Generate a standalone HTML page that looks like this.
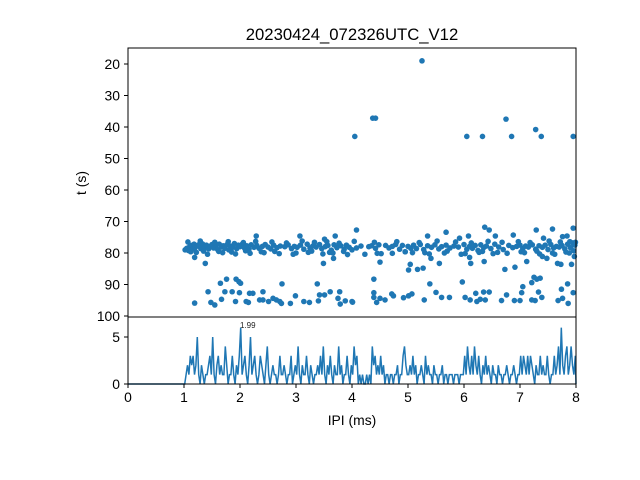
<!DOCTYPE html>
<html><head><meta charset="utf-8"><style>
body{margin:0;background:#fff}
svg{display:block;font-family:"Liberation Sans","DejaVu Sans",sans-serif}
</style></head><body>
<svg id="chart" width="640" height="480" viewBox="0 0 640 480">
<rect width="640" height="480" fill="#fff"/>
<text x="352" y="40" font-size="16.7" text-anchor="middle">20230424_072326UTC_V12</text>
<g id="scatter"></g>
<g id="hist"></g>
<rect x="128" y="48" width="448" height="269" fill="none" stroke="#000" stroke-width="1"/>
<rect x="128" y="317" width="448" height="67" fill="none" stroke="#000" stroke-width="1"/>
<g id="ticks"></g>
<text x="86" y="183" font-size="13.9" text-anchor="middle" transform="rotate(-90 86 183)">t (s)</text>
<text x="352" y="425" font-size="13.9" text-anchor="middle">IPI (ms)</text>
<text x="240" y="328" font-size="8" fill="#222">1.99</text>
</svg>
<script>
const xTicks=[0,1,2,3,4,5,6,7,8];
const tTicks=[20,30,40,50,60,70,80,90,100];
const hTicks=[0,5];
const outlierX=[5.25,4.37,4.42,4.05,6.05,6.33,6.75,6.85,7.28,7.38,7.95];
const outlierT=[19,37.2,37.2,43,43,43,37.5,43,40.8,43,43];
const lowX=[1.19,1.38,1.19,1.43,1.48,1.55,1.65,1.67,1.73,1.76,1.86,1.92,1.93,1.98,2.01,1.99,2.11,2.15,2.17,2.23,2.35,2.41,2.41,2.51,2.59,2.65,2.71,2.74,2.75,2.9,2.99,3.14,3.24,3.38,3.4,3.42,3.51,3.49,3.61,3.67,3.78,3.75,3.79,3.88,4.0,2.29,3.07,3.51,3.7,4.08,
4.23,4.5,4.72,4.95,5.01,5.04,5.17,5.27,5.41,5.56,6.1,6.12,6.36,6.73,6.91,7.12,7.4,7.48,7.67,7.73,7.92,7.97,
5.35,5.68,5.92,6.08,6.37,6.45,6.56,6.88,7.29,7.42,7.58,7.76,7.84,7.95,7.89,
4.01,4.39,4.39,4.39,4.44,4.5,4.59,4.71,4.74,4.92,5.01,5.07,5.29,5.39,5.5,5.6,5.74,5.97,6.02,6.11,6.21,6.23,6.29,6.35,6.38,6.45,6.67,6.76,6.9,7.0,7.03,7.05,7.21,7.25,7.3,7.36,7.21,7.27,7.33,7.39,7.68,7.74,7.76,7.85,7.86,7.95];
const lowT=[95.9,83.3,81.4,92.3,95.7,96.5,89.6,94.7,92.3,88.3,92.3,95.4,88.3,89.1,89.6,92.6,95.4,95.7,92.8,92.8,94.9,92.3,94.9,95.4,94.4,94.9,95.4,96,89.8,96,93.6,95.4,95.7,89.8,95.2,93.3,93.3,83.3,92.3,81.7,92.3,94.4,96.2,95.2,95.4,74.6,74.6,75.6,74.6,72.7,
80.4,82.9,80.1,79.6,85.4,83.6,85.2,84.8,81.7,83.3,81.4,83.3,82.7,85.2,84.5,82.7,81.1,81.7,83.3,83.6,83.6,81.1,
74.6,73.4,75.3,74.6,71.8,72.7,74.6,74.3,72.7,75.3,72.4,74.8,74.6,72.1,76.4,
95.6,88.3,92.6,94.1,95.7,94.4,94.9,93,93.6,94.2,93.6,93,94.9,89.8,92.5,94.1,94.1,89.2,94.1,94.9,92.8,95.4,94.7,92.4,94.9,92.4,95.1,93.3,95.1,95.1,92.6,90.7,89.4,87.7,88.3,88,94.9,95.1,92.4,94.1,95.1,91.5,94.4,89.8,96,92.6];
const bandX=[1.02,1.05,1.08,1.1,1.13,1.15,1.18,1.2,1.23,1.26,1.3,1.33,1.37,1.4,1.44,1.47,1.5,1.53,1.57,1.6,1.63,1.67,1.7,1.73,1.77,1.8,1.83,1.87,1.9,1.94,1.97,2.0,2.04,2.08,2.12,2.16,2.2,2.25,2.3,2.34,2.4,2.45,2.5,2.55,2.6,2.66,2.72,2.8,2.86,2.92,2.97,3.02,3.08,3.14,3.2,3.25,3.3,3.36,3.42,3.46,3.52,3.57,3.63,3.68,3.73,3.8,3.86,3.9,3.95,4.0,4.08,4.16,4.3,4.35,4.42,4.48,4.6,4.66,4.72,4.78,4.85,4.9,5.0,5.05,5.1,5.15,5.22,5.28,5.35,5.42,5.48,5.55,5.6,5.68,5.75,5.82,5.9,6.0,6.05,6.1,6.15,6.2,6.25,6.3,6.35,6.4,6.48,6.55,6.62,6.7,6.8,6.87,6.94,7.0,7.05,7.1,7.15,7.22,7.28,7.34,7.4,7.45,7.5,7.55,7.6,7.65,7.7,7.75,7.8,7.85,7.9,7.94,7.98,1.12,1.35,1.62,1.85,2.1,2.38,2.62,3.0,3.28,3.6,3.85,4.45,4.95,5.3,5.7,6.02,6.33,6.6,7.02,7.3,7.58,7.82,7.96];
const bandT=[79,78.5,79.2,78,77.6,78.8,77.2,78.3,77.8,77.4,78.6,77.1,78.2,77.5,78.7,77.9,77.3,78.4,77.6,78.9,77.2,78.1,77.7,78.5,77.3,79,77.8,78.2,77,78.6,77.5,78,77.2,78.4,77.7,78.9,77.4,78.2,77.6,78.5,77.9,77.3,78.1,78.7,77.5,78.3,77.8,78,77.4,78.6,77.9,78.2,77.5,78.8,77.2,78.4,77.8,78.1,77.3,78.6,78,77.6,79.1,77.4,78.3,77.7,78.8,77.5,78.2,79,78.4,77.8,78,77.7,78.5,77.4,77.6,78.4,77.9,77.3,78.8,77.6,77.9,78.5,77.5,78.6,77.3,78.9,77.7,78.2,77.4,78.7,78,77.5,78.4,77.8,78.1,77.3,78.8,77.9,78.5,77.6,79.2,77.4,78.3,77.8,78.6,77.2,78.1,78.9,77.6,78.3,77.9,77.5,78.6,77.8,78.1,77.4,78.8,77.7,78.2,77.5,78.9,77.3,78.4,77.9,78.1,77.6,78.7,77.2,78.3,76.8,77.5,79.6,79.4,79.5,79.7,79.3,79.6,79.5,80,79.4,79.8,79.5,80.1,79.6,79.9,79.4,80.2,79.5,79.8,79.6,79.4,80,79.7,79.3];
const band2X=[1.07,1.22,1.29,1.42,1.55,1.69,1.79,1.92,2.06,2.18,2.28,2.43,2.57,2.7,2.83,2.95,3.11,3.22,3.33,3.48,3.55,3.66,3.77,3.92,4.04,4.4,4.52,4.8,5.08,5.2,5.38,5.52,5.65,5.85,5.95,6.13,6.27,6.43,6.52,6.68,6.77,6.97,7.08,7.18,7.35,7.52,7.62,7.72,7.88,7.99];
const band2T=[76.5,79.8,76.2,80.4,76.6,79.9,76.4,80.3,76.7,80.1,76.3,79.9,76.5,80.2,76.8,80.4,76.2,79.8,76.6,80.3,76.4,80,76.9,80.5,76.3,76.6,80.2,76.4,79.9,76.7,80.3,76.2,80,76.5,80.4,76.8,79.8,76.3,80.2,76.6,80.1,76.4,79.9,76.7,80.3,76.2,80.4,76.5,80,76.6];
const histStart=1.0, histBin=0.025;
const histCounts=[0,1,2,1,3,2,3,1,2,5,1,0,2,1,0,1,1,2,3,1, 5,1,0,2,3,1,2,1,1,4,2,0,1,1,3,1,0,2,1,3,
6,1,2,3,1,0,2,5,1,2,3,1,0,1,3,2,1,0,2,4, 1,0,1,2,1,1,0,1,3,1,1,2,1,0,1,1,3,0,1,2,
1,4,1,0,2,1,1,3,1,0,2,1,0,1,1,2,1,3,1,4, 1,0,2,1,3,1,0,2,1,1,4,1,2,0,1,1,3,1,0,2,
1,4,2,3,0,1,0,1,0,0,1,0,1,0,4,2,3,1,2,1, 3,1,2,0,1,1,0,1,1,0,1,1,2,0,1,1,3,4,2,1,
1,2,1,3,1,2,0,1,1,2,1,0,3,1,2,1,1,0,2,1, 1,0,1,1,2,0,1,1,0,1,1,1,0,1,1,1,0,1,1,1,
3,1,4,2,1,3,1,4,2,1,3,1,0,2,1,3,1,2,1,0, 2,1,1,0,2,1,1,0,1,1,2,1,0,1,1,2,1,0,1,1,
3,1,3,2,1,3,1,3,2,1,0,2,1,1,3,1,2,1,1,3, 1,0,1,1,3,1,2,4,1,6,2,1,3,4,1,2,4,2,1,3];

const NS='http://www.w3.org/2000/svg';
const xs=v=>128+v*56;
const ts=v=>64+(v-20)*3.15;
const hs=v=>384-v*9.4;
const sc=document.getElementById('scatter');
function dots(X,T,name){
  for(let i=0;i<X.length;i++){
    const c=document.createElementNS(NS,'circle');
    c.setAttribute('cx',xs(X[i]));c.setAttribute('cy',ts(T[i]));c.setAttribute('r',2.8);c.setAttribute('fill','#1f77b4');
    
    
    sc.appendChild(c);
  }
}
dots(outlierX,outlierT,'outlier-point');
dots(lowX,lowT,'scatter-point');
dots(bandX,bandT,'band-point');
dots(band2X,band2T,'band-point');
let pts=[[xs(0),hs(0)],[xs(histStart),hs(0)]];
histCounts.forEach((v,i)=>pts.push([xs(histStart+(i+0.5)*histBin),hs(v)]));
pts.push([xs(8),hs(0)]);
const pl=document.createElementNS(NS,'polyline');
pl.setAttribute('points',pts.map(p=>p.join(',')).join(' '));
pl.setAttribute('fill','none');pl.setAttribute('stroke','#1f77b4');pl.setAttribute('stroke-width','1.5');


document.getElementById('hist').appendChild(pl);
const tk=document.getElementById('ticks');
function line(x1,y1,x2,y2){const l=document.createElementNS(NS,'line');l.setAttribute('x1',x1);l.setAttribute('y1',y1);l.setAttribute('x2',x2);l.setAttribute('y2',y2);l.setAttribute('stroke','#000');


tk.appendChild(l);}
function text(x,y,s,anchor,name){const t=document.createElementNS(NS,'text');t.setAttribute('x',x);t.setAttribute('y',y);t.setAttribute('font-size','13.9');t.setAttribute('text-anchor',anchor);t.textContent=s;


tk.appendChild(t);}
xTicks.forEach(v=>{line(xs(v),384,xs(v),388);text(xs(v),402,String(v),'middle','x-tick-label');});
tTicks.forEach(v=>{line(124,ts(v),128,ts(v));text(120,ts(v)+5,String(v),'end','t-tick-label');});
hTicks.forEach(v=>{line(124,hs(v),128,hs(v));text(120,hs(v)+5,String(v),'end','count-tick-label');});
</script>
</body></html>
